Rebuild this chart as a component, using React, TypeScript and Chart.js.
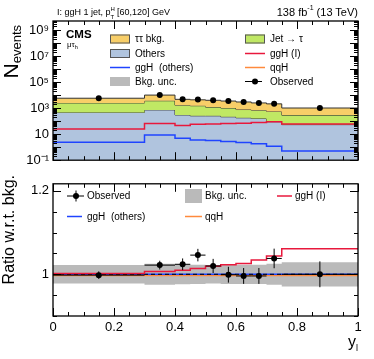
import React, { useEffect, useRef } from "react";
import { Chart, registerables } from "chart.js";

Chart.register(...registerables);

const FONT = "'Liberation Sans', Arial, Helvetica, sans-serif";

// ---------- data ----------
const binEdges = [0, 0.3, 0.4, 0.45, 0.5, 0.55, 0.6, 0.65, 0.7, 0.75, 1.0];
const binCenters = [0.15, 0.35, 0.425, 0.475, 0.525, 0.575, 0.625, 0.675, 0.725, 0.875];

const others = [470, 730, 300, 255, 255, 215, 180, 160, 90, 54];
const jetFakes = [2030, 2940, 1380, 1265, 945, 805, 600, 530, 470, 236];
const ttBkg = [3250, 6330, 3040, 2820, 2790, 2470, 2180, 1810, 1560, 730];
const ggHI = [25, 67, 46, 58, 60, 67, 70, 79, 89, 60];
const ggHOthers = [2.4, 8.6, 4.9, 3.5, 3.2, 2.7, 2.3, 1.8, 1.2, 0.5];
const observed = [5740, 10220, 4840, 4540, 4070, 3490, 2950, 2490, 2200, 1020];

const ratioObserved = [0.998, 1.022, 1.024, 1.046, 1.02, 0.999, 0.996, 0.996, 1.038, 1.0];
const ratioObservedErr = [0.009, 0.0105, 0.014, 0.015, 0.017, 0.019, 0.019, 0.019, 0.0235, 0.031];
const ratioBkgUnc = [0.022, 0.025, 0.024, 0.023, 0.022, 0.023, 0.023, 0.023, 0.025, 0.029];
const ratioGgHI = [1.002, 1.007, 1.01, 1.014, 1.019, 1.023, 1.026, 1.034, 1.044, 1.061];
const ratioGgHOthers = [1.0, 1.0, 1.0, 1.0, 1.0, 1.0, 1.0, 1.0, 1.0, 1.0];
const ratioQqH = [0.998, 0.998, 0.998, 0.998, 0.998, 0.998, 0.998, 0.998, 0.998, 0.998];

const xTickValues = [0, 0.2, 0.4, 0.6, 0.8, 1];
const xTickLabels = ["0", "0.2", "0.4", "0.6", "0.8", "1"];
const logTickValues = [0.1, 10, 1e3, 1e5, 1e7, 1e9];
const logTickLabels = ["10\u207B\u00B9", "10", "10\u00B3", "10\u2075", "10\u2077", "10\u2079"];
const ratioTickValues = [1, 1.2];
const ratioTickLabels = ["1", "1.2"];

// ---------- colours ----------
const C_OTHERS = "#b0c4de";
const C_JET = "#c0e864";
const C_TT = "#f8ce68";
const C_RED = "#e8183c";
const C_BLUE = "#1f44ff";
const C_ORANGE = "#ff8a3c";
const C_UNC = "#bababa";

// ---------- helpers ----------
const steps = (vals: number[]) =>
  binEdges.map((x, i) => ({ x, y: vals[Math.min(i, vals.length - 1)] }));
const addArr = (...arrs: number[][]) => arrs[0].map((_, i) => arrs.reduce((s, a) => s + a[i], 0));

function drawFrameTicks(chart: any, yTicks: { v: number; major: boolean }[]) {
  const { ctx, chartArea: a } = chart;
  const xs = chart.scales.x;
  const ys = chart.scales.y;
  ctx.save();
  ctx.strokeStyle = "#000";
  ctx.lineWidth = 1;
  ctx.beginPath();
  for (let k = 0; k <= 20; k++) {
    const v = k * 0.05;
    const major = k % 4 === 0;
    const px = Math.round(xs.getPixelForValue(v)) + 0.5;
    const len = major ? 8 : 4;
    ctx.moveTo(px, a.bottom);
    ctx.lineTo(px, a.bottom - len);
    ctx.moveTo(px, a.top);
    ctx.lineTo(px, a.top + len);
  }
  for (const t of yTicks) {
    const py = Math.round(ys.getPixelForValue(t.v)) + 0.5;
    if (py < a.top - 0.1 || py > a.bottom + 0.6) continue;
    const len = t.major ? 8 : 4;
    ctx.moveTo(a.left, py);
    ctx.lineTo(a.left + len, py);
    ctx.moveTo(a.right, py);
    ctx.lineTo(a.right - len, py);
  }
  ctx.stroke();
  ctx.lineWidth = 1.3;
  ctx.strokeRect(a.left, a.top, a.right - a.left, a.bottom - a.top);
  ctx.restore();
}

function legendBox(ctx: any, x: number, y: number, w: number, h: number, color: string, border: boolean) {
  ctx.fillStyle = color;
  ctx.fillRect(x, y - h / 2, w, h);
  if (border) {
    ctx.strokeStyle = "#555";
    ctx.lineWidth = 1;
    ctx.strokeRect(x + 0.5, y - h / 2 + 0.5, w - 1, h - 1);
  }
}
function legendLine(ctx: any, x: number, y: number, w: number, color: string, lw = 1.5) {
  ctx.strokeStyle = color;
  ctx.lineWidth = lw;
  ctx.beginPath();
  ctx.moveTo(x, y);
  ctx.lineTo(x + w, y);
  ctx.stroke();
}
function legendText(ctx: any, x: number, y: number, text: string) {
  ctx.fillStyle = "#000";
  ctx.font = `10px ${FONT}`;
  ctx.textBaseline = "middle";
  ctx.textAlign = "left";
  ctx.fillText(text, x, y);
}
function marker(ctx: any, x: number, y: number, r = 3) {
  ctx.fillStyle = "#000";
  ctx.beginPath();
  ctx.arc(x, y, r, 0, Math.PI * 2);
  ctx.fill();
}

// log minor ticks
const logMinorTicks: { v: number; major: boolean }[] = [];
for (let e = -1; e <= 9; e++) {
  logMinorTicks.push({ v: Math.pow(10, e), major: true });
  for (let m = 2; m <= 9; m++) logMinorTicks.push({ v: m * Math.pow(10, e), major: false });
}
const ratioMinorTicks: { v: number; major: boolean }[] = [];
for (let k = 0; k <= 6; k++) {
  const v = 0.9 + k * 0.05;
  ratioMinorTicks.push({ v, major: Math.abs(v - 1) < 1e-6 || Math.abs(v - 1.2) < 1e-6 });
}

const topPlugin = {
  id: "topDecor",
  afterDraw(chart: any) {
    drawFrameTicks(chart, logMinorTicks);
    const ctx = chart.ctx;
    ctx.save();
    // column 1
    legendBox(ctx, 110, 39, 20, 9, C_TT, true);
    legendText(ctx, 135, 39.5, "\u03C4\u03C4 bkg.");
    legendBox(ctx, 110, 53.5, 20, 9, C_OTHERS, true);
    legendText(ctx, 135, 54, "Others");
    legendLine(ctx, 110, 67.5, 20, C_BLUE);
    legendText(ctx, 135, 68, "ggH  (others)");
    legendBox(ctx, 110, 81.5, 20, 9, C_UNC, false);
    legendText(ctx, 135, 82, "Bkg. unc.");
    // column 2
    legendBox(ctx, 245, 39, 20, 9, C_JET, true);
    legendText(ctx, 270, 39.5, "Jet \u2192 \u03C4");
    legendLine(ctx, 245, 53.5, 20, C_RED);
    legendText(ctx, 270, 54, "ggH (I)");
    legendLine(ctx, 245, 67.5, 20, C_ORANGE);
    legendText(ctx, 270, 68, "qqH");
    legendLine(ctx, 245, 81.5, 17, "#000", 1);
    marker(ctx, 255, 81.5, 3);
    legendText(ctx, 270, 82, "Observed");
    ctx.restore();
  },
};

const bottomPlugin = {
  id: "bottomDecor",
  afterDatasetsDraw(chart: any) {
    const { ctx } = chart;
    const xs = chart.scales.x;
    const ys = chart.scales.y;
    ctx.save();
    ctx.strokeStyle = "#000";
    ctx.lineWidth = 1;
    ctx.beginPath();
    for (let i = 0; i < ratioObserved.length; i++) {
      const cx = xs.getPixelForValue(binCenters[i]);
      const y0 = ys.getPixelForValue(ratioObserved[i]);
      ctx.moveTo(cx, ys.getPixelForValue(ratioObserved[i] - ratioObservedErr[i]));
      ctx.lineTo(cx, ys.getPixelForValue(ratioObserved[i] + ratioObservedErr[i]));
      ctx.moveTo(xs.getPixelForValue(binEdges[i]), y0);
      ctx.lineTo(xs.getPixelForValue(binEdges[i + 1]), y0);
    }
    ctx.stroke();
    ctx.restore();
  },
  afterDraw(chart: any) {
    drawFrameTicks(chart, ratioMinorTicks);
    const ctx = chart.ctx;
    ctx.save();
    // row 1
    ctx.strokeStyle = "#000";
    ctx.lineWidth = 1;
    ctx.beginPath();
    ctx.moveTo(67, 24);
    ctx.lineTo(84, 24);
    ctx.moveTo(76, 18.5);
    ctx.lineTo(76, 29.5);
    ctx.stroke();
    marker(ctx, 76, 24, 3);
    legendText(ctx, 87, 24.5, "Observed");
    legendBox(ctx, 185, 24, 17, 14, C_UNC, false);
    legendText(ctx, 205, 24.5, "Bkg. unc.");
    legendLine(ctx, 277, 24, 15, C_RED);
    legendText(ctx, 295, 24.5, "ggH (I)");
    // row 2
    legendLine(ctx, 67, 44.5, 15, C_BLUE);
    legendText(ctx, 87, 45, "ggH  (others)");
    legendLine(ctx, 185, 44.5, 17, C_ORANGE);
    legendText(ctx, 205, 45, "qqH");
    ctx.restore();
  },
};

function topConfig(): any {
  const sumOJ = addArr(others, jetFakes);
  const sumAll = addArr(others, jetFakes, ttBkg);
  const stepLine = (label: string, vals: number[], extra: any) => ({
    label,
    data: steps(vals),
    stepped: "before",
    pointRadius: 0,
    borderWidth: 1,
    borderColor: "#333",
    ...extra,
  });
  return {
    type: "line",
    data: {
      datasets: [
        stepLine("Others", others, { fill: "start", backgroundColor: C_OTHERS, order: 6 }),
        stepLine("Jet \u2192 \u03C4", sumOJ, { fill: "-1", backgroundColor: C_JET, order: 5 }),
        stepLine("\u03C4\u03C4 bkg.", sumAll, { fill: "-1", backgroundColor: C_TT, order: 4 }),
        stepLine("ggH (I)", ggHI, { fill: false, borderColor: C_RED, borderWidth: 1.5, order: 2 }),
        stepLine("ggH  (others)", ggHOthers, { fill: false, borderColor: C_BLUE, borderWidth: 1.5, order: 3 }),
        {
          label: "Observed",
          data: binCenters.map((x, i) => ({ x, y: observed[i] })),
          showLine: false,
          pointRadius: 3,
          pointBackgroundColor: "#000",
          pointBorderColor: "#000",
          pointBorderWidth: 0,
          order: 0,
        },
      ],
    },
    options: {
      animation: false,
      responsive: false,
      maintainAspectRatio: false,
      devicePixelRatio: 1,
      layout: { padding: { top: 21, bottom: 3.5, right: 16, left: 0 } },
      plugins: { legend: { display: false }, tooltip: { enabled: false } },
      scales: {
        x: {
          type: "linear",
          min: 0,
          max: 1,
          grid: { display: false, drawTicks: false },
          border: { display: false },
          ticks: { display: false },
          afterFit: (s: any) => {
            s.height = 0;
          },
        },
        y: {
          type: "logarithmic",
          min: 0.1,
          max: 4.9e9,
          grid: { display: false, drawTicks: false },
          border: { display: false },
          afterBuildTicks: (s: any) => {
            s.ticks = logTickValues.map((v) => ({ value: v }));
          },
          ticks: {
            autoSkip: false,
            padding: 4,
            color: "#000",
            font: { size: 13, family: FONT },
            callback: (_v: any, i: number) => logTickLabels[i],
          },
          afterFit: (s: any) => {
            s.width = 53;
          },
        },
      },
    },
    plugins: [topPlugin],
  };
}

function bottomConfig(): any {
  const stepLine = (label: string, vals: number[], extra: any) => ({
    label,
    data: steps(vals),
    stepped: "before",
    pointRadius: 0,
    borderWidth: 1.5,
    fill: false,
    ...extra,
  });
  return {
    type: "line",
    data: {
      datasets: [
        stepLine("unc-lo", ratioBkgUnc.map((u) => 1 - u), {
          borderWidth: 0,
          borderColor: "rgba(0,0,0,0)",
          order: 10,
        }),
        stepLine("Bkg. unc.", ratioBkgUnc.map((u) => 1 + u), {
          borderWidth: 0,
          borderColor: "rgba(0,0,0,0)",
          fill: "-1",
          backgroundColor: C_UNC,
          order: 9,
        }),
        stepLine("qqH", ratioQqH, { borderColor: C_ORANGE, borderWidth: 2, order: 6 }),
        stepLine("ggH  (others)", ratioGgHOthers, { borderColor: C_BLUE, borderWidth: 1.5, order: 5 }),
        {
          label: "ref",
          data: [
            { x: 0, y: 1 },
            { x: 1, y: 1 },
          ],
          borderColor: "#000",
          borderWidth: 1,
          borderDash: [4, 3],
          pointRadius: 0,
          fill: false,
          order: 4,
        },
        stepLine("ggH (I)", ratioGgHI, { borderColor: C_RED, borderWidth: 1.5, order: 3 }),
        {
          label: "Observed",
          data: binCenters.map((x, i) => ({ x, y: ratioObserved[i] })),
          showLine: false,
          pointRadius: 3,
          pointBackgroundColor: "#000",
          pointBorderColor: "#000",
          pointBorderWidth: 0,
          order: 0,
        },
      ],
    },
    options: {
      animation: false,
      responsive: false,
      maintainAspectRatio: false,
      devicePixelRatio: 1,
      layout: { padding: { top: 3, bottom: 0, right: 16, left: 0 } },
      plugins: { legend: { display: false }, tooltip: { enabled: false } },
      scales: {
        x: {
          type: "linear",
          min: 0,
          max: 1,
          grid: { display: false, drawTicks: false },
          border: { display: false },
          afterBuildTicks: (s: any) => {
            s.ticks = xTickValues.map((v) => ({ value: v }));
          },
          ticks: {
            autoSkip: false,
            maxRotation: 0,
            padding: 4,
            color: "#000",
            font: { size: 13, family: FONT },
            callback: (_v: any, i: number) => xTickLabels[i],
          },
          afterFit: (s: any) => {
            s.height = 43;
          },
        },
        y: {
          type: "linear",
          min: 0.9,
          max: 1.217,
          grid: { display: false, drawTicks: false },
          border: { display: false },
          afterBuildTicks: (s: any) => {
            s.ticks = ratioTickValues.map((v) => ({ value: v }));
          },
          ticks: {
            autoSkip: false,
            padding: 4,
            color: "#000",
            font: { size: 13, family: FONT },
            callback: (_v: any, i: number) => ratioTickLabels[i],
          },
          afterFit: (s: any) => {
            s.width = 53;
          },
        },
      },
    },
    plugins: [bottomPlugin],
  };
}

export default function App() {
  const topRef = useRef<HTMLCanvasElement>(null);
  const botRef = useRef<HTMLCanvasElement>(null);

  useEffect(() => {
    document.body.style.margin = "0";
    const c1 = new Chart(topRef.current as HTMLCanvasElement, topConfig());
    const c2 = new Chart(botRef.current as HTMLCanvasElement, bottomConfig());
    return () => {
      c1.destroy();
      c2.destroy();
    };
  }, []);

  const abs = (s: any) => ({ position: "absolute" as const, whiteSpace: "nowrap" as const, ...s });

  return (
    <div style={{ position: "relative", width: 374, height: 359, background: "#fff", fontFamily: FONT, overflow: "hidden", color: "#000" }}>
      <canvas ref={topRef} width={374} height={172} style={{ position: "absolute", left: 0, top: 0, width: 374, height: 172 }} />
      <canvas ref={botRef} width={374} height={187} style={{ position: "absolute", left: 0, top: 172, width: 374, height: 187 }} />

      {/* header left */}
      <div style={abs({ left: 57, top: 6, fontSize: 9, lineHeight: "12px" })}>
        I: ggH 1 jet, p
        <span style={{ position: "relative", display: "inline-block", width: 6.5, height: 10, verticalAlign: "top" }}>
          <span style={{ position: "absolute", left: 0, top: -3, fontSize: 6 }}>H</span>
          <span style={{ position: "absolute", left: 0, top: 5, fontSize: 6 }}>T</span>
        </span>
        [60,120] GeV
      </div>
      {/* header right */}
      <div style={abs({ right: 16, top: 5, fontSize: 11, lineHeight: "14px" })}>
        138 fb<sup style={{ fontSize: 7, verticalAlign: "6px", lineHeight: 0 }}>-1</sup> (13 TeV)
      </div>
      {/* CMS label */}
      <div style={abs({ left: 66, top: 28, fontSize: 11.5, fontWeight: "bold", lineHeight: "13px" })}>CMS</div>
      <div style={abs({ left: 67, top: 40, fontSize: 8, lineHeight: "9px" })}>
        {"\u03BC\u03C4"}
        <sub style={{ fontSize: 5.5, verticalAlign: "-2px", lineHeight: 0 }}>h</sub>
      </div>

      {/* y title top */}
      <div
        style={abs({
          left: 0,
          top: 144,
          width: 119,
          height: 22,
          transform: "rotate(-90deg)",
          transformOrigin: "left top",
          textAlign: "right",
          lineHeight: "22px",
        })}
      >
        <span style={{ fontSize: 21 }}>N</span>
        <span style={{ fontSize: 13, position: "relative", top: 3 }}>events</span>
      </div>

      {/* y title bottom */}
      <div
        style={abs({
          left: 0,
          top: 310,
          width: 135,
          height: 18,
          transform: "rotate(-90deg)",
          transformOrigin: "left top",
          textAlign: "right",
          lineHeight: "18px",
          fontSize: 16,
        })}
      >
        Ratio w.r.t. bkg.
      </div>

      {/* x title */}
      <div style={abs({ right: 16, top: 333, fontSize: 16, lineHeight: "18px" })}>
        y<span style={{ fontSize: 9, position: "relative", top: 4 }}>l</span>
      </div>
    </div>
  );
}
